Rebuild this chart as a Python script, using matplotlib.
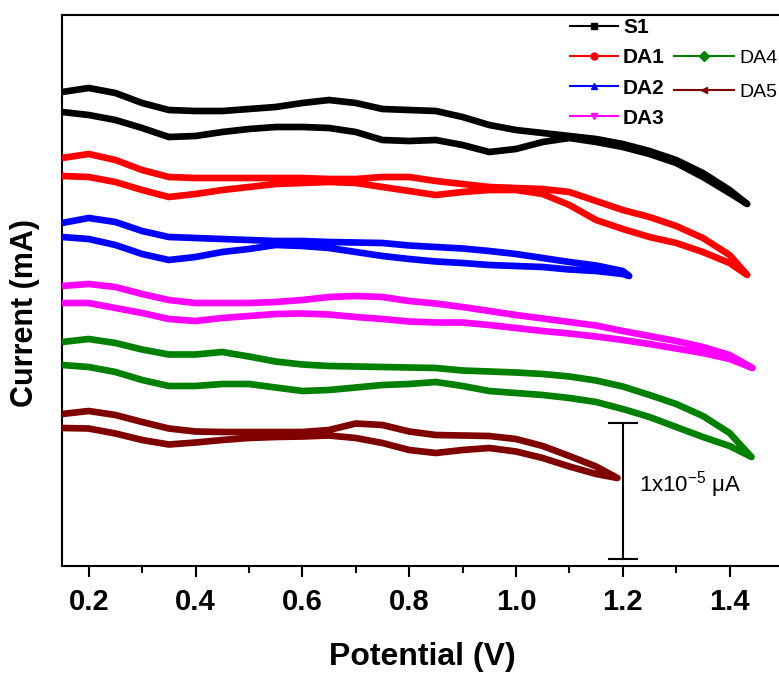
import numpy as np
import matplotlib
matplotlib.use("Agg")
import matplotlib.pyplot as plt
from matplotlib.lines import Line2D

plt.rcParams['font.family'] = ['Liberation Sans', 'DejaVu Sans']
plt.rcParams['mathtext.fontset'] = 'custom'
plt.rcParams['mathtext.rm'] = 'Liberation Sans'
plt.rcParams['mathtext.it'] = 'Liberation Sans:italic'
plt.rcParams['mathtext.bf'] = 'Liberation Sans:bold'

# ---------------- data (potential in V, current in arbitrary units) ----------------
POT = [0.15, 0.20, 0.25, 0.30, 0.35, 0.40, 0.45, 0.50, 0.55, 0.60, 0.65, 0.70, 0.75,
       0.80, 0.85, 0.90, 0.95, 1.00, 1.05, 1.10, 1.15, 1.20, 1.25, 1.30, 1.35, 1.40]

# S1
s1_end = 1.433
s1_fwd = [474, 478, 473, 463, 456, 455, 455, 457, 459, 463, 466, 463, 457,
          456, 455, 449, 441, 436, 433, 430, 427, 422, 415, 406, 393, 376, 362]
s1_rev = [454, 451, 446, 438, 429, 430, 434, 437, 439, 439, 438, 434, 426,
          425, 426, 421, 414, 417, 424, 428, 424, 419, 412, 403, 389, 373, 362]

# DA1
da1_end = 1.433
da1_fwd = [408, 412, 406, 396, 389, 388, 388, 388, 388, 388, 387, 387, 389,
           389, 385, 382, 379, 378, 377, 374, 365, 356, 349, 340, 328, 311, 291]
da1_rev = [390, 389, 384, 376, 369, 372, 376, 379, 382, 383, 384, 383, 379,
           375, 371, 374, 376, 376, 372, 361, 346, 337, 329, 323, 314, 303, 291]

# DA2
da2_end = 1.212
da2_fwd = [343, 348, 344, 335, 329, 328, 327, 326, 325, 325, 324, 323.5, 323,
           320.5, 319, 317.5, 315, 312, 308, 304, 300.5, 295, 290]
da2_rev = [329, 327, 321, 312, 306, 309, 314, 317, 321, 320, 318, 314, 310,
           307, 304.5, 303, 301, 300, 299, 296.5, 295, 292, 290]

# DA3
da3_end = 1.443
da3_fwd = [280, 282, 279, 272, 266, 263, 263, 263, 264, 266, 269, 270, 269,
           265, 262.5, 259, 255, 251, 247.5, 244, 240.5, 235, 230, 225, 219, 211, 198]
da3_rev = [263, 263, 258, 253, 247, 245, 248, 250, 252, 252.5, 251.5, 249, 247,
           244.5, 243.5, 243.5, 241, 238, 235, 232.5, 229.5, 226, 222, 217.5, 213, 207, 198]

# DA4
da4_end = 1.441
da4_fwd = [224, 227, 223, 216.5, 211.5, 211.5, 214, 209.5, 204.5, 201.5, 200, 199.5, 199,
           198.5, 198, 195.5, 194.5, 193.5, 192, 189.5, 185.5, 179.5, 171, 162, 150, 133, 109]
da4_rev = [201, 199, 194, 186, 180, 180, 182, 182, 178.5, 175, 176, 178.5, 181,
           182, 184, 180, 175, 173, 171, 168, 164, 157, 149, 139, 129, 120, 109]

# DA5
da5_end = 1.19
da5_fwd = [152, 155, 151, 144, 137.5, 134.5, 134, 134, 134, 134, 136, 142.5, 141,
           134.5, 131, 130.5, 130, 127, 120, 110, 99.5, 88]
da5_rev = [138, 137.5, 132.5, 126, 121.5, 123.5, 126, 128, 129, 129.5, 130.5, 128, 123,
           116, 113, 116, 118, 114.5, 108, 99.5, 92, 88]

labels = ['S1', 'DA1', 'DA2', 'DA3', 'DA4', 'DA5']
colors = ['#000000', '#FF0000', '#0000FF', '#FF00FF', '#008000', '#800000']
markers = ['s', 'o', '^', 'v', 'D', '<']
ends = [s1_end, da1_end, da2_end, da3_end, da4_end, da5_end]
fwds = [s1_fwd, da1_fwd, da2_fwd, da3_fwd, da4_fwd, da5_fwd]
revs = [s1_rev, da1_rev, da2_rev, da3_rev, da4_rev, da5_rev]

xticks = [0.2, 0.4, 0.6, 0.8, 1.0, 1.2, 1.4]
xticklabels = ['0.2', '0.4', '0.6', '0.8', '1.0', '1.2', '1.4']

scale_x = 1.2
scale_y0, scale_y1 = 7, 143
scale_label = '1x10$^{-5}$ \u03bcA'

# ---------------- figure ----------------
W, H = 779, 673
fig = plt.figure(figsize=(W / 100, H / 100), dpi=100)
ax = fig.add_axes([62 / W, 1 - 566 / H, 721 / W, 551 / H])

for lab, col, end, fw, rv in zip(labels, colors, ends, fwds, revs):
    n = len(fw) - 1
    pots = POT[:n] + [end]
    x = pots + pots[::-1]
    y = list(fw) + list(rv)[::-1]
    ax.plot(x, y, color=col, lw=4.8, solid_joinstyle='round', solid_capstyle='butt', zorder=3)

ax.set_xlim(0.15, 1.5)
ax.set_ylim(0, 551)
ax.set_xticks(xticks)
ax.set_xticklabels(xticklabels)
ax.set_xticks([0.3, 0.5, 0.7, 0.9, 1.1, 1.3, 1.5], minor=True)
ax.set_yticks([])
ax.tick_params(axis='x', which='major', direction='out', length=8, width=1.5, pad=8,
               labelsize=21)
ax.tick_params(axis='x', which='minor', direction='out', length=5, width=1.5)
for t in ax.get_xticklabels():
    t.set_fontweight('bold')
for side in ['left', 'top', 'bottom']:
    ax.spines[side].set_linewidth(1.5)
ax.spines['right'].set_visible(False)

fig.text(422 / W, 1 - 657 / H, 'Potential (V)', ha='center', va='center',
         fontsize=23, fontweight='bold')
fig.text(25 / W, 1 - 313 / H, 'Current (mA)', ha='center', va='center',
         fontsize=22, fontweight='bold', rotation=90)

# scale bar
ax.plot([scale_x, scale_x], [scale_y0, scale_y1], color='black', lw=1.5, zorder=4)
ax.plot([scale_x - 0.025, scale_x + 0.027], [scale_y0, scale_y0], color='black', lw=1.5, zorder=4)
ax.plot([scale_x - 0.025, scale_x + 0.027], [scale_y1, scale_y1], color='black', lw=1.5, zorder=4)
ax.text(1.231, (scale_y0 + scale_y1) / 2 + 6, scale_label, ha='left', va='center', fontsize=16)

# legends
handles = [Line2D([], [], color=c, marker=m, markersize=5, lw=1.5) for c, m in zip(colors, markers)]
leg1 = fig.legend(handles[:4], labels[:4], loc='upper left',
                  bbox_to_anchor=(570 / W, 1 - 18 / H), frameon=False,
                  prop={'weight': 'bold', 'size': 15}, borderpad=0, borderaxespad=0,
                  handlelength=2.3, handletextpad=0.25, labelspacing=0.54)
leg2 = fig.legend(handles[4:], labels[4:], loc='upper left',
                  bbox_to_anchor=(674 / W, 1 - 49 / H), frameon=False,
                  prop={'weight': 'normal', 'size': 14}, borderpad=0, borderaxespad=0,
                  handlelength=3.1, handletextpad=0.25, labelspacing=0.85)

fig.savefig('out.png', dpi=100)
